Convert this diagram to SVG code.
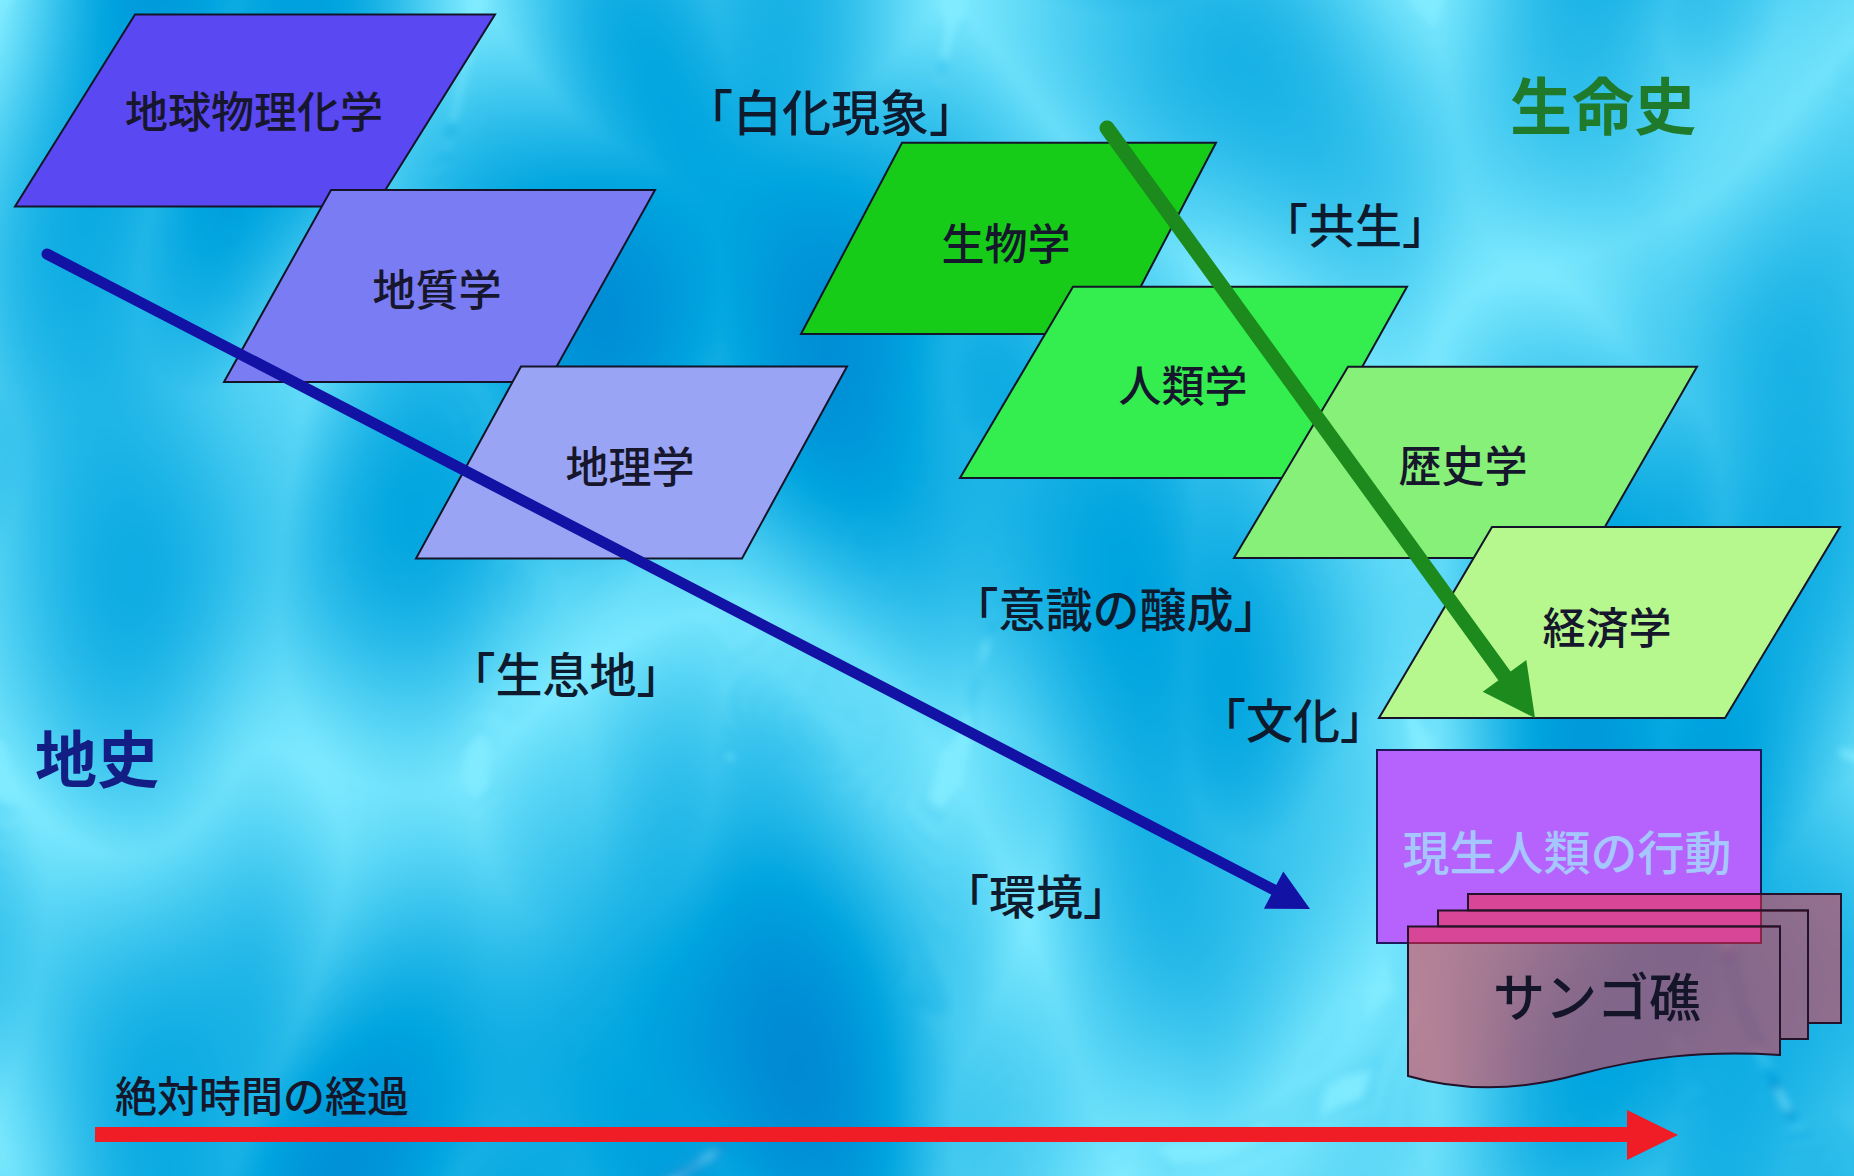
<svg xmlns="http://www.w3.org/2000/svg" width="1854" height="1176" viewBox="0 0 1854 1176">
  <defs>
    <!-- watery caustic backdrop: bright ridges where the noise crosses zero -->
    <filter id="water" x="0" y="0" width="100%" height="100%" color-interpolation-filters="sRGB">
      <feTurbulence type="turbulence" baseFrequency="0.0021 0.0013" numOctaves="2" seed="11" result="n"/>
      <feColorMatrix in="n" type="matrix" values="-1.0 0 0 0 0.50  -0.55 0 0 0 0.92  -0.25 0 0 0 1.0  0 0 0 0 1" result="c"/>
      <feGaussianBlur in="c" stdDeviation="5"/>
    </filter>
    <style>
      .lbl { font-family: "Noto Sans CJK JP", "Noto Sans CJK SC", sans-serif; fill: #16162c; text-anchor: middle; dominant-baseline: central; font-weight: 500; }
      .box { font-size: 43px; }
      .kw { font-size: 47px; fill: #0e1a2e; }
      .para { stroke: #141428; stroke-width: 2; stroke-linejoin: miter; }
      .page { fill: #f72d3c; fill-opacity: 0.52; stroke: #22122a; stroke-width: 2; }
    </style>
  </defs>

  <!-- background -->
  <rect width="1854" height="1176" fill="#2cb8e6"/>
  <rect x="-20" y="-20" width="1894" height="1216" filter="url(#water)"/>

  <!-- earth-science stack -->
  <g id="node-geophyschem">
    <polygon class="para" points="135,14.5 495,14.5 375,206.5 15,206.5" fill="#5a48f3"/>
    <text class="lbl box" x="254" y="109">地球物理化学</text>
  </g>
  <g id="node-geology">
    <polygon class="para" points="331,190 655,190 548,382 224,382" fill="#7a7cf4"/>
    <text class="lbl box" x="437" y="287">地質学</text>
  </g>
  <g id="node-geography">
    <polygon class="para" points="521,366.5 847,366.5 742,558.5 416,558.5" fill="#9aa4f4"/>
    <text class="lbl box" x="630" y="464">地理学</text>
  </g>

  <!-- life-science stack -->
  <g id="node-biology">
    <polygon class="para" points="902,142.7 1216,142.7 1116,334 801,334" fill="#16cc18"/>
    <text class="lbl box" x="1006" y="241">生物学</text>
  </g>
  <g id="node-anthropology">
    <polygon class="para" points="1073,286.7 1407,286.7 1300,478 960,478" fill="#33ee4e"/>
    <text class="lbl box" x="1183" y="383">人類学</text>
  </g>
  <g id="node-history">
    <polygon class="para" points="1348,366.7 1697,366.7 1587,558 1234,558" fill="#86f078"/>
    <text class="lbl box" x="1463" y="463">歴史学</text>
  </g>
  <g id="node-economics">
    <polygon class="para" points="1492,527 1840,527 1725,718 1379,718" fill="#b6f88e"/>
    <text class="lbl box" x="1607" y="625">経済学</text>
  </g>

  <!-- human activity -->
  <g id="node-human">
    <rect x="1377" y="750" width="384" height="193" fill="#b662fc" stroke="#1c1a5a" stroke-width="2"/>
    <text class="lbl" x="1567" y="849" font-size="47" style="fill:#a6c6ff">現生人類の行動</text>
  </g>

  <!-- coral reef (stacked documents) -->
  <g id="node-coral">
    <polygon class="page" points="1468,894 1841,894 1841,1023 1808,1023 1808,910.5 1468,910.5"/>
    <polygon class="page" points="1438,910.5 1808,910.5 1808,1039 1780,1039 1780,926.5 1438,926.5"/>
    <path class="page" d="M1408,926.5 H1780 V1055 C1700,1050 1640,1058 1580,1074 C1530,1088 1470,1094 1408,1076 Z"/>
    <text class="lbl" x="1597" y="994" font-size="52" style="fill:#15152a">サンゴ礁</text>
  </g>

  <!-- free labels -->
  <g id="labels">
    <text class="lbl kw" x="831" y="109" style="font-size:49px">「白化現象」</text>
    <text class="lbl kw" x="1355" y="222">「共生」</text>
    <text class="lbl kw" x="1116" y="606">「意識の醸成」</text>
    <text class="lbl kw" x="566" y="671">「生息地」</text>
    <text class="lbl kw" x="1293" y="717">「文化」</text>
    <text class="lbl kw" x="1036" y="893">「環境」</text>
    <text class="lbl" x="1603" y="103" font-size="62" style="fill:#1f7a2c;font-weight:bold">生命史</text>
    <text class="lbl" x="97" y="756" font-size="62" style="fill:#121e84;font-weight:bold">地史</text>
    <text class="lbl" x="262" y="1093" font-size="42" style="fill:#16162a">絶対時間の経過</text>
  </g>

  <!-- connectors -->
  <g id="connectors">
    <!-- earth history -->
    <line x1="47" y1="254" x2="1276" y2="891" stroke="#1212a4" stroke-width="11" stroke-linecap="round"/>
    <polygon points="1310,909 1283.3,871.5 1263.9,908.7" fill="#1212a4"/>
    <!-- life history -->
    <line x1="1107" y1="128" x2="1506" y2="678" stroke="#1c8a1c" stroke-width="15" stroke-linecap="round"/>
    <polygon points="1535,718 1526.3,660.1 1482.7,691.7" fill="#1c8a1c"/>
    <!-- absolute time -->
    <line x1="95" y1="1134.5" x2="1630" y2="1134.5" stroke="#f01c26" stroke-width="15"/>
    <polygon points="1627,1110 1678,1135 1627,1160" fill="#f01c26"/>
  </g>
</svg>
